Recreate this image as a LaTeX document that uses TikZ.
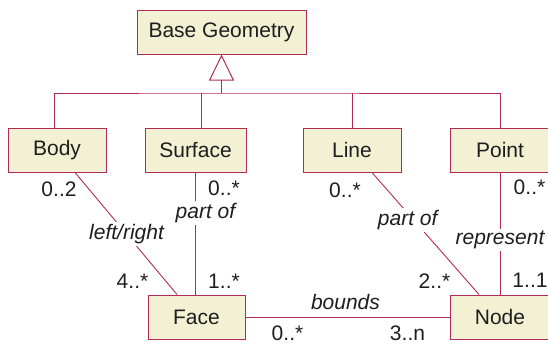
\documentclass[tikz,border=0pt]{standalone}
\usepackage{fontspec}
\setmainfont{Liberation Sans}
\usetikzlibrary{arrows.meta}
\definecolor{umlred}{RGB}{176,44,86}
\definecolor{umlfill}{RGB}{243,241,212}
\definecolor{umltext}{RGB}{30,30,30}

\begin{document}
\begin{tikzpicture}[x=1pt, y=-1pt,
    cls/.style={draw=umlred, fill=umlfill, line width=1pt, minimum height=44pt, inner sep=0pt, text=umltext, font=\fontsize{21}{24}\selectfont},
    assoc/.style={draw=umlred, line width=0.9pt},
    mult/.style={anchor=base, inner sep=0pt, text=umltext, font=\fontsize{21}{24}\selectfont},
    role/.style={fill=white, inner sep=2pt, text=umltext, font=\fontsize{21}{24}\selectfont\itshape}]
    \useasboundingbox (0,0) rectangle (548,343);
    \clip (0,0) rectangle (548,343);
    \node[cls, minimum width=169pt] (geom) at (221.5,32) {Base Geometry};
    \node[cls, minimum width=98pt] (body) at (57,150) {Body};
    \node[cls, minimum width=101pt] (surf) at (195.5,150) {Surface};
    \node[cls, minimum width=98pt] (line) at (352,150) {Line};
    \node[cls, minimum width=100pt] (point) at (500,150) {Point};
    \node[cls, minimum width=97pt] (face) at (196.5,317) {Face};
    \node[cls, minimum width=100pt] (node) at (500,317) {Node};
    \coordinate (bus) at (221.5,93);
    \coordinate (surfup) at ([xshift=5.5pt]surf.north);
    \draw[assoc] ([xshift=-3pt]body.north) |- (bus) -| (point.north);
    \draw[assoc] (surfup) -- (surfup |- bus);
    \draw[assoc] (line.north) -- (line.north |- bus);
    \draw[assoc, -{Triangle[open, length=26pt, width=25pt, line width=1pt]}] (bus) -- (geom.south);
    \draw[assoc] ([xshift=18pt]body.south) -- node[role, pos=0.505] (lr) {left/right} ([xshift=-19.5pt]face.north);
    \draw[assoc] (surf.south) -- node[role, pos=0.33, xshift=10pt] (partf) {part of} (surf.south |- face.north);
    \draw[assoc] ([xshift=20pt]line.south) -- node[role, pos=0.39, xshift=-6pt] (partn) {part of} ([xshift=-21pt]node.north);
    \draw[assoc] (point.south) -- node[role, pos=0.55] (repr) {represent} (node.north);
    \draw[assoc] (face.east) -- node[role, fill=none, above=5pt, pos=0.49] (bnd) {bounds} (node.west);
    \node[mult] (m1) at (59,196) {0..2};
    \node[mult] (m2) at (224,195) {0..*};
    \node[mult] (m3) at (132.5,288) {4..*};
    \node[mult] (m4) at (224,288) {1..*};
    \node[mult] (m5) at (345,197) {0..*};
    \node[mult] (m6) at (434.5,288) {2..*};
    \node[mult] (m7) at (529.5,194) {0..*};
    \node[mult] (m8) at (530,287) {1..1};
    \node[mult] (m9) at (287.5,340) {0..*};
    \node[mult] (m10) at (407.5,340) {3..n};
\end{tikzpicture}
\end{document}
